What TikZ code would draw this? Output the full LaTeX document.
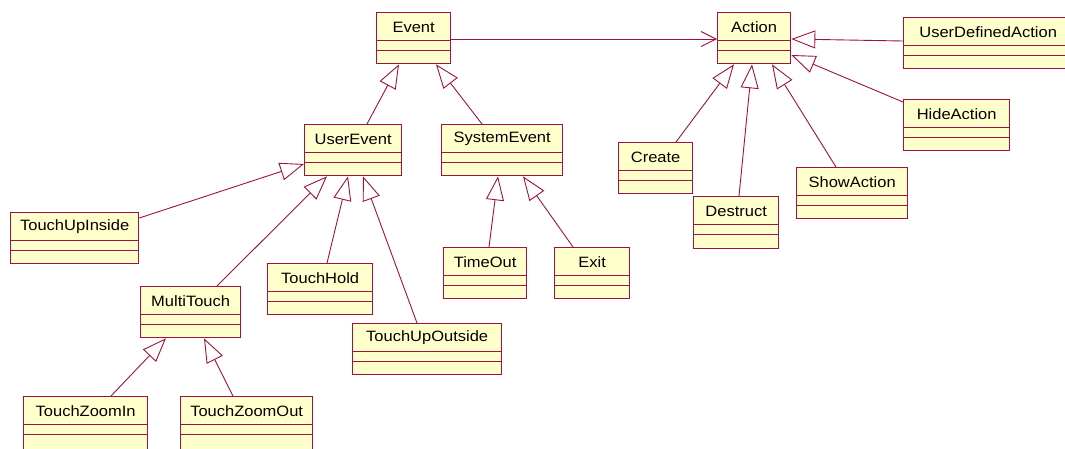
\documentclass[tikz,border=0pt]{standalone}
\usepackage{fontspec}
\newfontfamily\clsfont{Liberation Sans}[FakeStretch=1.1]
\usetikzlibrary{arrows.meta,calc}
\definecolor{umlline}{RGB}{160,16,64}
\definecolor{umlfill}{RGB}{255,255,204}
\tikzset{
  clsbox/.style={draw=umlline, fill=umlfill, line width=1.3pt, inner sep=0pt, anchor=north west},
  clssep/.style={draw=umlline, line width=1pt},
  clstext/.style={inner sep=0pt, font=\clsfont\fontsize{15}{18}\selectfont, text=black},
  gen/.style={draw=umlline, line width=0.9pt, -{Triangle[open, length=24pt, width=18pt, line width=0.9pt]}},
  assoc/.style={draw=umlline, line width=0.9pt, -{Straight Barb[length=15pt, width=15pt, line width=0.9pt]}},
}
% class box: name, left, top, right, bottom, title
\newcommand\umlclass[6]{%
  \node[clsbox, minimum width=#4-#2, minimum height=#5-#3] (#1) at (#2,#3) {};
  \draw[clssep] ($(#1.north west)+(0,28)$) -- ($(#1.north east)+(0,28)$);
  \draw[clssep] ($(#1.north west)+(0,38.5)$) -- ($(#1.north east)+(0,38.5)$);
  \node[clstext] at ($(#1.north)+(0,15)$) {#6};
}
\begin{document}
\begin{tikzpicture}[x=1pt, y=-1pt]
\useasboundingbox (0,0) rectangle (1065,448);
\clip (0,0) rectangle (1065,448);

% event hierarchy
\umlclass{ev}{376}{12}{450}{63}{Event}
\umlclass{ue}{304}{124}{401}{175}{UserEvent}
\umlclass{se}{441}{124}{562}{175}{SystemEvent}
\umlclass{tui}{10}{212}{138}{263}{TouchUpInside}
\umlclass{mt}{140}{286}{240}{337}{MultiTouch}
\umlclass{th}{267}{263}{372}{314}{TouchHold}
\umlclass{tuo}{352}{323}{501}{374}{TouchUpOutside}
\umlclass{to}{443}{247}{526}{298}{TimeOut}
\umlclass{ex}{554}{247}{629}{298}{Exit}
\umlclass{tzi}{23}{396}{147}{452}{TouchZoomIn}
\umlclass{tzo}{180}{396}{312}{452}{TouchZoomOut}

% action hierarchy
\umlclass{act}{717}{12}{790}{63}{Action}
\umlclass{uda}{903}{17}{1072}{68}{UserDefinedAction}
\umlclass{ha}{903}{99}{1009}{150}{HideAction}
\umlclass{cr}{618}{142}{692}{193}{Create}
\umlclass{de}{693}{196}{778}{248}{Destruct}
\umlclass{sa}{796}{167}{907}{218}{ShowAction}

% association
\draw[assoc] ($(ev.north east)+(0,27)$) -- ($(act.north west)+(0,27)$);

% generalizations of Event
\draw[gen] ($(ue.north west)+(63,0)$) -- ($(ev.south west)+(23,0)$);
\draw[gen] ($(se.north west)+(41,0)$) -- ($(ev.south west)+(60,0)$);
\draw[gen] ($(tui.north east)+(0,6)$) -- ($(ue.north west)+(0,40)$);
\draw[gen] ($(mt.north west)+(77,0)$) -- ($(ue.south west)+(23,0)$);
\draw[gen] ($(th.north west)+(60,0)$) -- ($(ue.south west)+(44,0)$);
\draw[gen] ($(tuo.north west)+(65,0)$) -- ($(ue.south west)+(59,0)$);
\draw[gen] ($(to.north west)+(46,0)$) -- ($(se.south west)+(57,0)$);
\draw[gen] ($(ex.north west)+(19,0)$) -- ($(se.south west)+(82,0)$);
\draw[gen] ($(tzi.north west)+(88,0)$) -- ($(mt.south west)+(26,0)$);
\draw[gen] ($(tzo.north west)+(53,0)$) -- ($(mt.south west)+(64,0)$);

% generalizations of Action
\draw[gen] ($(cr.north west)+(58,0)$) -- ($(act.south west)+(17,0)$);
\draw[gen] ($(de.north west)+(46,0)$) -- ($(act.south west)+(35,0)$);
\draw[gen] ($(sa.north west)+(40,0)$) -- ($(act.south west)+(55,0)$);
\draw[gen] ($(ha.north west)+(0,3)$) -- ($(act.north east)+(0,43)$);
\draw[gen] ($(uda.north west)+(0,24)$) -- ($(act.north east)+(0,27)$);
\end{tikzpicture}
\end{document}
